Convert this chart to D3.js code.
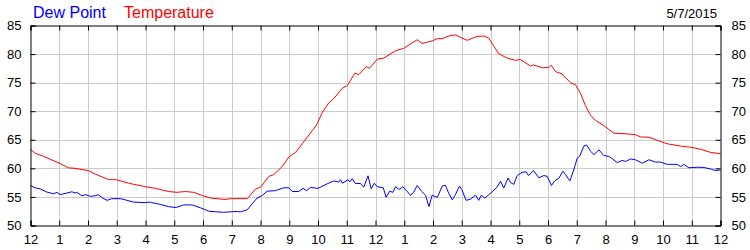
<!DOCTYPE html>
<html>
<head>
<meta charset="utf-8">
<script src="https://cdn.jsdelivr.net/npm/d3@7"></script>
<style>
  body { margin: 0; background: #fff; }
  svg { display: block; font-family: Arial, "Liberation Sans", sans-serif; }
</style>
</head>
<body>
<div class="canvas"></div>
<script>
// readings, hours since midnight
const tempHours = [0, 0.16, 0.45, 1.0, 1.32, 1.55, 2.02, 2.25, 2.71, 3.0, 3.41, 3.99, 4.34, 4.8, 5.09, 5.39, 5.68, 5.97, 6.26, 6.78, 6.96, 7.54, 7.83, 8.0, 8.29, 8.46, 8.75, 8.99, 9.22, 9.45, 9.8, 9.95, 10.14, 10.38, 10.55, 10.84, 11.02, 11.28, 11.42, 11.68, 11.79, 12.06, 12.29, 12.7, 12.98, 13.16, 13.45, 13.62, 13.97, 14.15, 14.32, 14.6, 14.78, 15.19, 15.54, 15.77, 15.94, 16.06, 16.29, 16.58, 16.87, 17.04, 17.39, 17.5, 17.8, 18.03, 18.11, 18.26, 18.49, 18.78, 18.96, 19.13, 19.3, 19.48, 19.65, 19.94, 20.29, 20.7, 21.04, 21.22, 21.51, 21.8, 22.15, 22.61, 22.96, 23.3, 23.65, 24];
const tempValues = [63.3, 62.65, 62.1, 60.9, 60.1, 60.0, 59.6, 59.0, 58.05, 58.0, 57.4, 56.8, 56.5, 55.95, 55.8, 55.95, 55.8, 55.25, 54.8, 54.55, 54.7, 54.7, 56.4, 56.7, 58.6, 58.9, 60.3, 62.0, 62.8, 64.3, 66.6, 67.6, 69.7, 71.5, 72.2, 74.0, 74.5, 76.65, 76.4, 77.8, 77.5, 79.1, 79.3, 80.6, 81.0, 81.6, 82.5, 81.85, 82.3, 82.7, 82.7, 83.25, 83.35, 82.4, 83.1, 83.15, 82.8, 81.8, 80.05, 79.3, 78.9, 79.05, 77.9, 78.1, 77.6, 77.65, 78.05, 76.95, 76.5, 75.0, 74.6, 73.15, 71.0, 69.3, 68.4, 67.5, 66.15, 66.05, 65.9, 65.5, 65.45, 64.9, 64.3, 63.9, 63.7, 63.35, 62.8, 62.55];

const dewHours = [0, 0.16, 0.34, 0.57, 0.8, 0.92, 1.03, 1.2, 1.44, 1.55, 1.61, 1.78, 1.92, 2.08, 2.25, 2.35, 2.5, 2.66, 2.83, 3.12, 3.29, 3.58, 3.99, 4.15, 4.22, 4.51, 4.8, 5.06, 5.33, 5.62, 5.91, 6.2, 6.72, 6.96, 7.19, 7.3, 7.54, 7.71, 7.88, 8.06, 8.23, 8.52, 8.81, 8.99, 9.1, 9.33, 9.48, 9.6, 9.74, 10.0, 10.32, 10.55, 10.72, 10.78, 10.85, 11.04, 11.11, 11.19, 11.3, 11.48, 11.59, 11.74, 11.85, 11.96, 12.06, 12.27, 12.37, 12.49, 12.6, 12.7, 12.82, 12.95, 13.08, 13.22, 13.33, 13.45, 13.6, 13.74, 13.86, 13.97, 14.15, 14.32, 14.43, 14.55, 14.67, 14.78, 14.92, 15.0, 15.15, 15.3, 15.48, 15.59, 15.68, 15.8, 16.06, 16.23, 16.35, 16.46, 16.61, 16.7, 16.81, 16.93, 17.1, 17.24, 17.32, 17.5, 17.68, 17.86, 17.97, 18.12, 18.23, 18.38, 18.52, 18.61, 18.76, 18.86, 19.02, 19.1, 19.25, 19.34, 19.48, 19.6, 19.77, 19.94, 20.12, 20.41, 20.58, 20.7, 20.87, 21.04, 21.28, 21.51, 21.74, 21.91, 22.15, 22.49, 22.61, 22.72, 22.9, 23.19, 23.42, 23.65, 23.83, 24];
const dewValues = [57.0, 56.6, 56.4, 55.85, 55.55, 55.8, 55.4, 55.6, 55.9, 55.7, 55.8, 55.2, 55.4, 55.1, 55.2, 55.4, 54.85, 54.4, 54.7, 54.7, 54.5, 54.1, 54.0, 54.1, 54.0, 53.7, 53.3, 53.15, 53.6, 53.6, 53.1, 52.5, 52.3, 52.4, 52.45, 52.4, 52.75, 53.8, 54.8, 55.25, 56.0, 56.1, 56.6, 56.6, 55.95, 55.95, 56.5, 56.1, 56.65, 56.5, 57.3, 57.8, 57.6, 58.0, 57.4, 58.0, 57.65, 58.2, 57.35, 57.35, 56.7, 58.7, 56.4, 57.4, 56.8, 56.6, 54.95, 56.0, 55.8, 56.8, 56.3, 56.8, 56.1, 55.25, 55.85, 57.0, 56.0, 55.3, 53.3, 55.3, 54.9, 56.9, 57.05, 55.6, 54.5, 55.4, 56.9, 56.3, 54.4, 54.6, 55.3, 54.4, 55.3, 54.8, 55.9, 56.7, 57.75, 56.55, 58.3, 57.5, 57.2, 58.75, 59.3, 59.4, 58.75, 59.6, 58.35, 58.75, 58.6, 57.0, 57.8, 58.3, 59.5, 58.9, 57.8, 59.2, 61.8, 62.1, 63.9, 64.1, 63.0, 62.4, 63.25, 62.25, 62.1, 61.0, 61.4, 61.2, 61.65, 61.5, 60.9, 61.5, 61.1, 61.1, 60.7, 60.7, 60.3, 60.7, 60.1, 60.2, 60.15, 59.9, 59.6, 59.75];

const hourLabels = ['12', '1', '2', '3', '4', '5', '6', '7', '8', '9', '10', '11', '12', '1', '2', '3', '4', '5', '6', '7', '8', '9', '10', '11', '12'];
const yTicks = [50, 55, 60, 65, 70, 75, 80, 85];
const dateLabel = '5/7/2015';

const width = 750;
const height = 250;
const margin = { top: 25, right: 29.5, bottom: 25, left: 30.5 };

const svg = d3.select('.canvas')
  .append('svg')
  .attr('width', width)
  .attr('height', height);

const x = d3.scaleLinear().domain([0, 24]).range([margin.left, width - margin.right]);
const y = d3.scaleLinear().domain([50, 85]).range([height - margin.bottom + 0.5, margin.top + 0.5]);

// gridlines
const grid = svg.append('g').attr('stroke', '#cccccc').attr('stroke-width', 1);
grid.selectAll('.vg').data(d3.range(1, 24)).join('line')
  .attr('x1', (d) => Math.round(x(d)) + 0.5).attr('x2', (d) => Math.round(x(d)) + 0.5)
  .attr('y1', y(85)).attr('y2', y(50));
grid.selectAll('.hg').data(yTicks.slice(1, -1)).join('line')
  .attr('x1', x(0)).attr('x2', x(24))
  .attr('y1', (d) => Math.round(y(d)) + 0.5).attr('y2', (d) => Math.round(y(d)) + 0.5);

// series
const line = (hours, vals) => d3.line()
  .x((d, i) => x(hours[i]))
  .y((d) => y(d))(vals);

svg.append('path').attr('d', line(dewHours, dewValues))
  .attr('fill', 'none').attr('stroke', '#0000ff').attr('stroke-width', 1);
svg.append('path').attr('d', line(tempHours, tempValues))
  .attr('fill', 'none').attr('stroke', '#ff0000').attr('stroke-width', 1);

// axes (ticks point into the plot)
const tickFmt = (d, i) => hourLabels[i];
const xBottom = d3.axisBottom(x).tickValues(d3.range(0, 25)).tickSize(-5).tickPadding(9).tickFormat(tickFmt);
const xTop = d3.axisTop(x).tickValues(d3.range(0, 25)).tickSize(-5).tickFormat('');
const yLeft = d3.axisLeft(y).tickValues(yTicks).tickSize(-5).tickPadding(9).tickFormat(d3.format('d'));
const yRight = d3.axisRight(y).tickValues(yTicks).tickSize(-5).tickPadding(11).tickFormat(d3.format('d'));

const styleAxis = (g) => {
  g.selectAll('path').attr('stroke', '#000');
  g.selectAll('line').attr('stroke', '#000');
  g.selectAll('text').attr('fill', '#000').attr('font-size', '13px')
    .attr('font-family', 'Arial, "Liberation Sans", sans-serif');
};

svg.append('g').attr('transform', `translate(0, ${y(50)})`).call(xBottom).call(styleAxis);
svg.append('g').attr('transform', `translate(0, ${y(85)})`).call(xTop).call(styleAxis);
svg.append('g').attr('transform', `translate(${x(0)}, 0)`).call(yLeft).call(styleAxis);
svg.append('g').attr('transform', `translate(${x(24)}, 0)`).call(yRight).call(styleAxis);

// header
svg.append('text').attr('x', 33).attr('y', 18).attr('font-size', '16px').attr('fill', '#0000ff').text('Dew Point');
svg.append('text').attr('x', 124).attr('y', 18).attr('font-size', '16px').attr('fill', '#ff0000').text('Temperature');
svg.append('text').attr('x', 717).attr('y', 17.5).attr('font-size', '13px').attr('text-anchor', 'end').attr('fill', '#000').text(dateLabel);
</script>
</body>
</html>
